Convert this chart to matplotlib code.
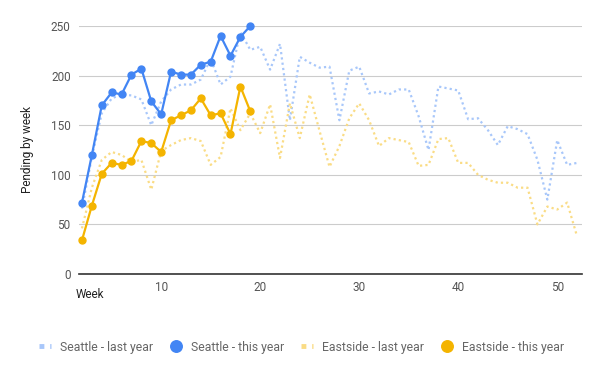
import matplotlib.pyplot as plt
from matplotlib.lines import Line2D

# -----------------------------------------------------------------------------
# DATA
# -----------------------------------------------------------------------------

weeks_last = [2, 3, 4, 5, 6, 7, 8, 9, 10, 11, 12, 13, 14, 15, 16, 17, 18, 19,
              20, 21, 22, 23, 24, 25, 26, 27, 28, 29, 30, 31, 32, 33, 34, 35,
              36, 37, 38, 39, 40, 41, 42, 43, 44, 45, 46, 47, 48, 49, 50, 51, 52]
weeks_this = [2, 3, 4, 5, 6, 7, 8, 9, 10, 11, 12, 13, 14, 15, 16, 17, 18, 19]

seattle_last = [66, 118, 162, 177, 181, 180, 176, 150, 174, 186, 191, 191, 196,
                217, 191, 199, 244, 226, 229, 206, 232, 155, 219, 213, 208, 209,
                155, 205, 209, 182, 184, 181, 186, 186, 159, 125, 189, 187, 185,
                156, 157, 145, 130, 149, 146, 141, 115, 75, 135, 110, 112]
seattle_this = [72, 120, 170, 183, 181, 201, 207, 174, 161, 204, 201, 201, 211,
                214, 240, 220, 239, 250]

eastside_last = [46, 87, 115, 123, 120, 113, 115, 85, 124, 130, 135, 137, 134,
                 110, 118, 167, 145, 162, 142, 171, 117, 172, 137, 181, 144, 108,
                 129, 157, 172, 155, 129, 137, 135, 133, 109, 110, 136, 137, 112,
                 112, 100, 95, 92, 92, 87, 87, 50, 68, 65, 72, 38]
eastside_this = [34, 69, 101, 112, 110, 114, 134, 132, 123, 155, 160, 165, 177,
                 160, 162, 141, 189, 164]

x_ticks = [10, 20, 30, 40, 50]
y_ticks = [0, 50, 100, 150, 200, 250]

BLUE = "#4285F4"
YELLOW = "#F4B400"
BLUE_LIGHT = "#A8C7FA"
YELLOW_LIGHT = "#FADC85"

plt.rcParams["font.family"] = ["Roboto", "DejaVu Sans"]

# -----------------------------------------------------------------------------
# FIGURE
# -----------------------------------------------------------------------------

fig = plt.figure(figsize=(6.0, 3.71), dpi=100)
ax = fig.add_axes([79 / 600, 1 - 274 / 371, 503 / 600, 248 / 371])

dots = (0, (1, 1.4))
ax.plot(weeks_last, seattle_last, color=BLUE_LIGHT, lw=1.6, ls=dots, zorder=2)
ax.plot(weeks_last, eastside_last, color=YELLOW_LIGHT, lw=1.6, ls=dots, zorder=2)
ax.plot(weeks_this, seattle_this, color=BLUE, lw=1.6, marker="o", ms=5,
        zorder=4, clip_on=False)
ax.plot(weeks_this, eastside_this, color=YELLOW, lw=1.6, marker="o", ms=5,
        zorder=4, clip_on=False)

ax.set_xlim(1.7, 52.5)
ax.set_ylim(0, 250)
ax.set_xticks(x_ticks)
ax.set_yticks(y_ticks)
ax.tick_params(length=0, labelsize=8.5, labelcolor="#555555")
ax.tick_params(axis="y", pad=6)
ax.tick_params(axis="x", pad=5)

for side in ["top", "right", "left"]:
    ax.spines[side].set_visible(False)
ax.spines["bottom"].set_color("#333333")
ax.spines["bottom"].set_linewidth(1.2)
ax.spines["bottom"].set_zorder(5)
ax.grid(True, axis="y", color="#cccccc", lw=0.8)
ax.set_axisbelow(True)

fig.text(76 / 600, 1 - 295 / 371, "Week", ha="left", va="center",
         fontsize=8.5, color="#222222")
fig.text(28 / 600, 1 - 150 / 371, "Pending by week", ha="center", va="center",
         rotation=90, fontsize=8.5, color="#222222")

# legend: dotted handles for last year, single dots for this year
handles = [
    Line2D([], [], color=BLUE_LIGHT, lw=3.5, ls=(0, (1, 1.2))),
    Line2D([], [], color=BLUE, lw=0, marker="o", ms=8.3),
    Line2D([], [], color=YELLOW_LIGHT, lw=3.5, ls=(0, (1, 1.2))),
    Line2D([], [], color=YELLOW, lw=0, marker="o", ms=8.3),
]
labels = ["Seattle - last year", "Seattle - this year",
          "Eastside - last year", "Eastside - this year"]
fig.legend(handles, labels, loc="center", bbox_to_anchor=(0.5025, 1 - 347 / 371),
           ncol=4, frameon=False, fontsize=8.8, labelcolor="#666666",
           handlelength=1.0, handletextpad=0.75, columnspacing=1.35)

fig.savefig("out.png", dpi=100)
